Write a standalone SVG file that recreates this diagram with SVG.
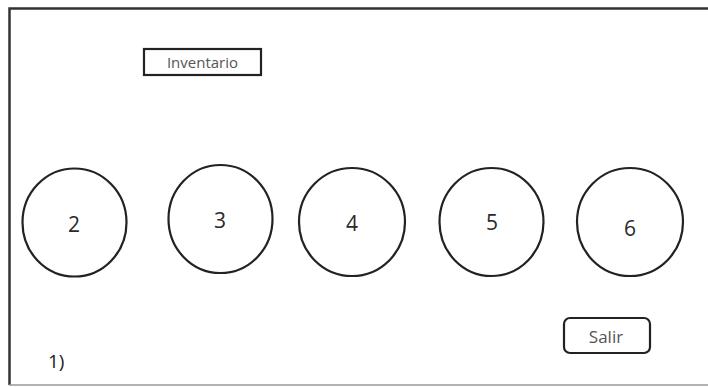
<svg xmlns="http://www.w3.org/2000/svg" width="708" height="387" viewBox="0 0 708 387">
<style>
.c{fill:#fff;stroke:#222;stroke-width:2.2}
.n{font-family:"Open Sans","Liberation Sans",sans-serif;font-size:21px;fill:#2a2a2a;text-anchor:middle}
.b{fill:#fff;stroke:#222;stroke-width:2.2}
.t{font-family:"Open Sans","Liberation Sans",sans-serif;fill:#555;text-anchor:middle}
</style>
<rect width="708" height="387" fill="#fff"/>
<path d="M9.5 385 V8.5 H712" fill="none" stroke="#333" stroke-width="2.5"/>
<line x1="9" y1="385" x2="708" y2="385" stroke="#999" stroke-width="1.5"/>
<g id="inventario"><rect class="b" x="144" y="49" width="117" height="26"/><text class="t" x="202.5" y="68" font-size="15" fill="#777">Inventario</text></g>
<g id="n2"><ellipse class="c" cx="74.5" cy="222.5" rx="52" ry="54"/><text class="n" x="74" y="232">2</text></g>
<g id="n3"><ellipse class="c" cx="220.5" cy="219" rx="52" ry="54"/><text class="n" x="220" y="228">3</text></g>
<g id="n4"><ellipse class="c" cx="352" cy="222" rx="53" ry="54"/><text class="n" x="352" y="231">4</text></g>
<g id="n5"><ellipse class="c" cx="491.5" cy="222" rx="52" ry="54"/><text class="n" x="492" y="230">5</text></g>
<g id="n6"><ellipse class="c" cx="630" cy="222" rx="53" ry="54"/><text class="n" x="630" y="236">6</text></g>
<g id="salir"><rect class="b" x="564" y="318" width="86" height="35" rx="6"/><text class="t" x="606" y="343" font-size="17" fill="#444">Salir</text></g>
<g id="label1"><text x="48" y="368" font-family="Open Sans,Liberation Sans,sans-serif" font-size="19" fill="#222">1)</text></g>
<g id="connectors"></g>
</svg>
